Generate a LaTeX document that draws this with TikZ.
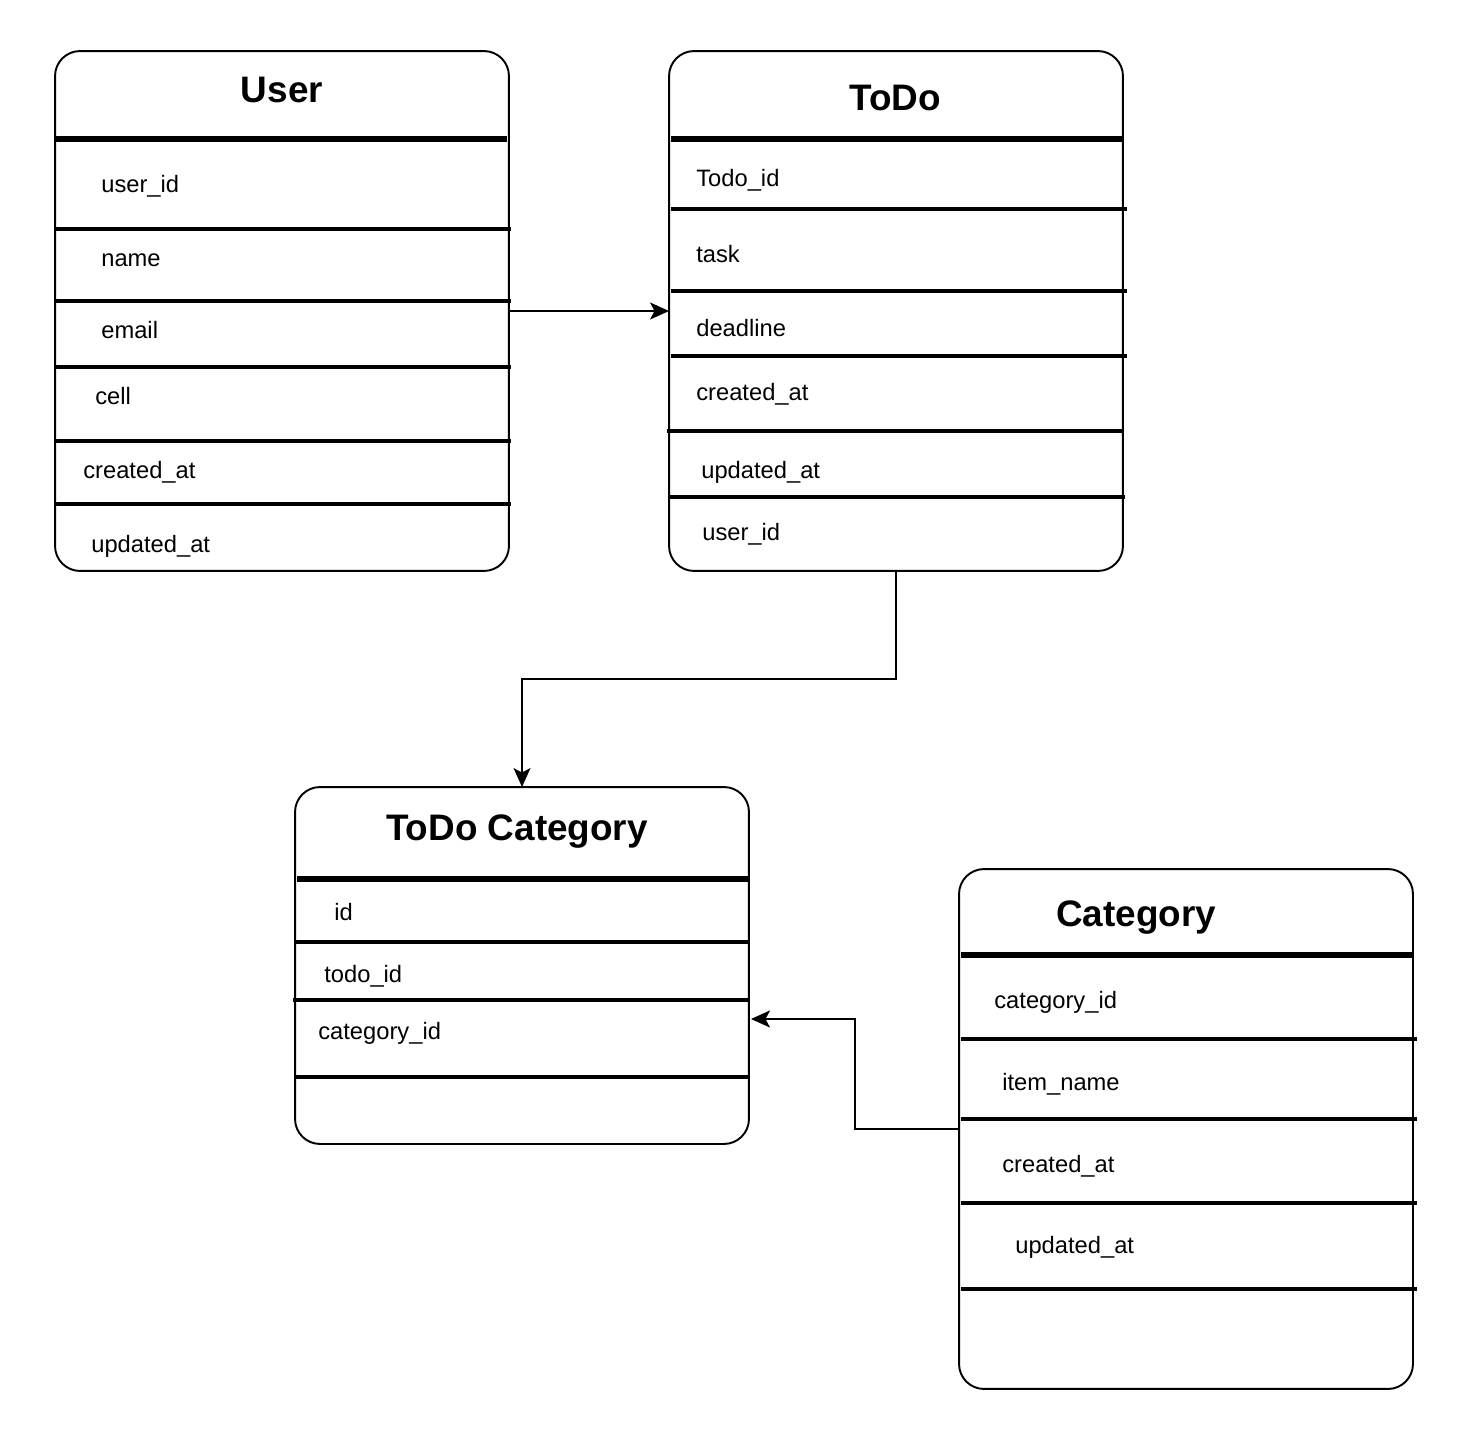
\documentclass[tikz,border=0pt]{standalone}
\usepackage{fontspec}
\setmainfont{Liberation Sans}
\usetikzlibrary{arrows.meta}
\definecolor{ink}{RGB}{0,0,0}
\tikzset{
  entity/.style = {draw=ink, rounded corners=0.5cm, line width=1.1pt,
    inner sep=0pt, outer sep=0pt, minimum width=9.08cm},
  title/.style = {anchor=base, inner sep=0pt,
    font=\fontsize{21}{25}\selectfont\bfseries},
  attr/.style = {anchor=base west, inner sep=0pt,
    font=\fontsize{13.5}{16}\selectfont},
  headline/.style = {draw=ink, line width=3.8pt},
  rowline/.style = {draw=ink, line width=1.9pt},
  link/.style = {draw=ink, line width=1.1pt,
    -{Stealth[length=0.38cm, width=0.34cm, inset=0.09cm]}},
}

\begin{document}
\begin{tikzpicture}[x=0.02cm, y=-0.02cm]
\useasboundingbox (0,0) rectangle (1468,1440);

% tables
\node [entity, minimum height=10.4cm] (user) at (282,311) {};
\node [entity, minimum height=10.4cm] (todo) at (896,311) {};
\node [entity, minimum height=7.14cm] (todocat) at (522,965.5) {};
\node [entity, minimum height=10.4cm] (category) at (1186,1129) {};

% headers
\node [title] (user-title) at (282,102) {User};
\node [title] (todo-title) at (895,110) {ToDo};
\node [title] (todocat-title) at (517,840) {ToDo Category};
\node [title] (category-title) at (1136,926) {Category};

\draw [headline] (55,139) -- (507,139);
\draw [headline] (671,139) -- (1122,139);
\draw [headline] (297,879) -- (748,879);
\draw [headline] (961,955) -- (1413,955);

% row separators
\foreach \y in {229,301,367,441,504}
  \draw [rowline] (55,\y) -- (511,\y);
\foreach \y in {209,291,356}
  \draw [rowline] (671,\y) -- (1127,\y);
\draw [rowline] (667,431) -- (1122,431);
\draw [rowline] (670,497) -- (1125,497);
\foreach \a/\b/\y in {295/750/942, 293/748/1000, 295/750/1077}
  \draw [rowline] (\a,\y) -- (\b,\y);
\foreach \y in {1039,1119,1203,1289}
  \draw [rowline] (961,\y) -- (1417,\y);

% attributes
\foreach \n/\x/\y/\t in {u1/101/192/user\_id, u2/101/266/name, u3/101/338/email,
    u4/95/404/cell, u5/83/478/created\_at, u6/91/552/updated\_at}
  \node [attr] (\n) at (\x,\y) {\t};
\foreach \n/\x/\y/\t in {t1/696/186/Todo\_id, t2/696/262/task, t3/696/336/deadline,
    t4/696/400/created\_at, t5/701/478/updated\_at, t6/702/540/user\_id}
  \node [attr] (\n) at (\x,\y) {\t};
\foreach \n/\x/\y/\t in {tc1/334/920/id, tc2/324/982/todo\_id, tc3/318/1039/category\_id}
  \node [attr] (\n) at (\x,\y) {\t};
\foreach \n/\x/\y/\t in {c1/994/1008/category\_id, c2/1002/1090/item\_name,
    c3/1002/1172/created\_at, c4/1015/1253/updated\_at}
  \node [attr] (\n) at (\x,\y) {\t};

% relations
\coordinate (catin) at (751,1019);
\draw [link] (user.east) -- (todo.west);
\draw [link] (todo.south) -- ++(0,108) -| (todocat.north);
\draw [link] (category.west) -- ++(-104,0) |- (catin);
\end{tikzpicture}
\end{document}
